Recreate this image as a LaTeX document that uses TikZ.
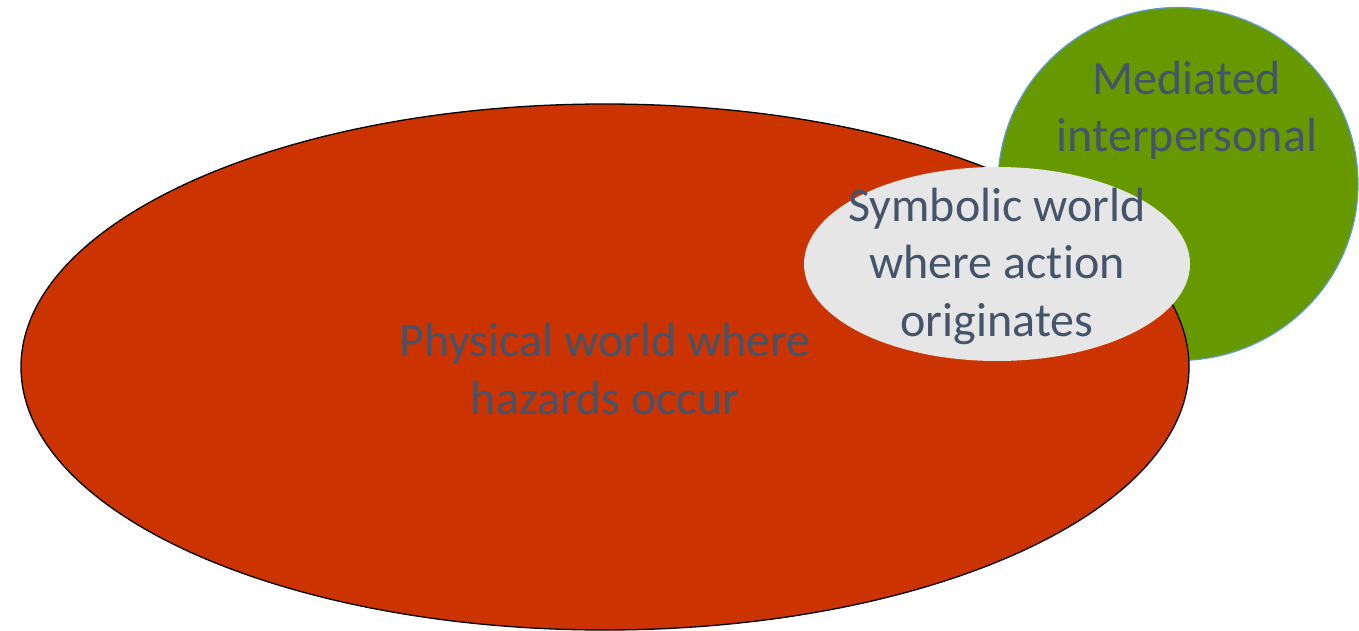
\documentclass[tikz,border=0pt]{standalone}
\usepackage{fontspec}
\setmainfont[Ligatures=NoCommon]{Carlito}
\usepackage{xcolor}
\usetikzlibrary{positioning,shapes.geometric}
\definecolor{hazardred}{HTML}{CB3300}
\definecolor{mediagreen}{HTML}{669900}
\definecolor{symbgray}{HTML}{E6E6E6}
\definecolor{slatetext}{HTML}{44546A}
\definecolor{paleblue}{HTML}{5B9BD5}

\begin{document}
\begin{tikzpicture}[x=1pt,y=-1pt,
world/.style={ellipse,inner sep=0pt},
lbl/.style={align=center,text=slatetext,font=\fontsize{48}{57.5}\selectfont}]
\useasboundingbox (0,0) rectangle (1359,631);
\node[world,draw=paleblue,line width=1.2pt,fill=mediagreen,
  minimum width=360,minimum height=353] (media) at (1178,184) {};
\node[lbl] (medtxt) at (1187,110) {Mediated\\interpersonal};
\node[world,draw=black,line width=1.3pt,fill=hazardred,
  minimum width=1168,minimum height=526] (phys) at (605,367) {};
\node[lbl] (phystxt) at (605,369) {Physical world where\\hazards occur};
\node[world,fill=symbgray,minimum width=386,minimum height=194] (symb) at (997,264) {};
\node[lbl] (symbtxt) at (997,266) {Symbolic world\\where action\\originates};
\end{tikzpicture}
\end{document}
